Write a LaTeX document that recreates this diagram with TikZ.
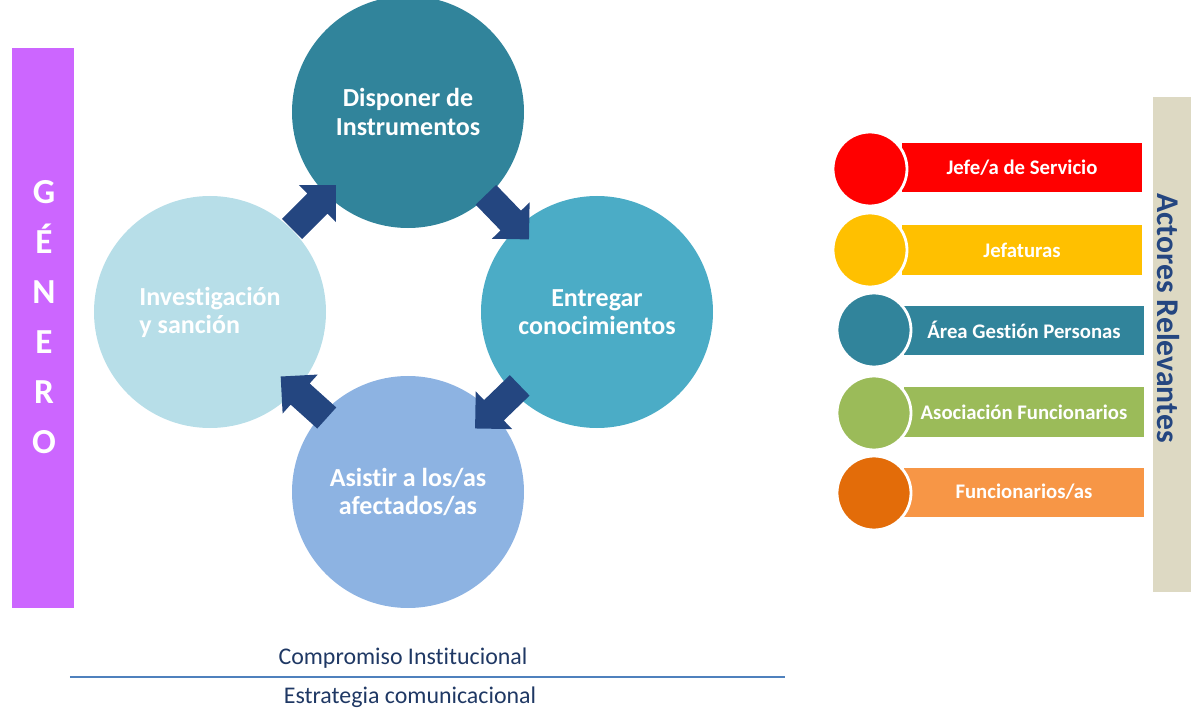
\documentclass[tikz,border=0pt]{standalone}
\usepackage{fontspec}
\setmainfont{Carlito}[Ligatures=NoCommon]
\usepackage{tikz}
\usetikzlibrary{shapes.arrows}
\usetikzlibrary{calc}
\definecolor{genero}{RGB}{204,102,255}
\definecolor{petrol}{RGB}{49,132,155}
\definecolor{aqua}{RGB}{75,172,198}
\definecolor{sky}{RGB}{141,179,226}
\definecolor{pale}{RGB}{183,222,232}
\definecolor{navy}{RGB}{36,70,128}
\definecolor{ink}{RGB}{31,56,100}
\definecolor{beige}{RGB}{221,217,195}
\definecolor{jefe}{RGB}{255,0,0}
\definecolor{amber}{RGB}{255,192,0}
\definecolor{olive}{RGB}{155,187,89}
\definecolor{rust}{RGB}{227,108,9}
\definecolor{peach}{RGB}{247,150,70}
\definecolor{rule}{RGB}{79,129,189}
\tikzstyle{stage}=[circle, minimum size=2.32cm, inner sep=0pt, text=white, align=center, font=\fontsize{7.4}{8}\selectfont\bfseries]
\tikzstyle{flow}=[single arrow, fill=navy, inner sep=0.135cm, single arrow head extend=0.12cm, minimum height=0.62cm]
\tikzstyle{actor}=[circle, minimum size=0.74cm, inner sep=0pt, draw=white, line width=0.8pt]
\tikzstyle{role}=[minimum width=2.40cm, minimum height=0.49cm, inner sep=0pt, text=white, font=\fontsize{5.9}{6.5}\selectfont\bfseries]
\tikzstyle{band}=[text=ink, font=\fontsize{6.8}{7.5}\selectfont]

\begin{document}
\begin{tikzpicture}
        \useasboundingbox (0,0) rectangle (11.91,-7.10);
        % side bars
        \fill[genero] (0.12,-0.48) rectangle (0.74,-6.08);
        \node[text=white, align=center, font=\fontsize{10}{14.2}\selectfont\bfseries] (G) at (0.44,-3.17) {G\\É\\N\\E\\R\\O};
        \fill[beige] (11.53,-0.97) rectangle (11.91,-5.92);
        \node[rotate=-90, text=navy, font=\fontsize{9}{10}\selectfont\bfseries] (AR) at (11.68,-3.18) {Actores Relevantes};
        % cycle
        \node[stage, fill=petrol]           (dispo) at (4.08,-1.12) {Disponer de\\Instrumentos};
        \node[stage, fill=aqua]             (entre) at (5.97,-3.12) {Entregar\\conocimientos};
        \node[stage, fill=sky]              (asist) at (4.08,-4.92) {Asistir a los/as\\afectados/as};
        \node[stage, fill=pale, align=left] (inves) at (2.10,-3.12) {Investigación\\y sanción};
        \node[flow, rotate=-46]  (a1) at ($(dispo)!0.5!(entre)$) {};
        \node[flow, rotate=-136] (a2) at ($(entre)!0.5!(asist)$) {};
        \node[flow, rotate=138]  (a3) at ($(asist)!0.5!(inves)$) {};
        \node[flow, rotate=45]   (a4) at ($(inves)!0.5!(dispo)$) {};
        % actors
        \node[role, fill=jefe]   (R1) at (10.22,-1.68) {Jefe/a de Servicio};
        \node[role, fill=amber]  (R2) at (10.22,-2.50) {Jefaturas};
        \node[role, fill=petrol] (R3) at (10.24,-3.30) {Área Gestión Personas};
        \node[role, fill=olive]  (R4) at (10.24,-4.12) {Asociación Funcionarios};
        \node[role, fill=peach]  (R5) at (10.24,-4.92) {Funcionarios/as};
        \node[actor, fill=jefe]   (C1) at (8.70,-1.69) {};
        \node[actor, fill=amber]  (C2) at (8.70,-2.50) {};
        \node[actor, fill=petrol] (C3) at (8.74,-3.30) {};
        \node[actor, fill=olive]  (C4) at (8.74,-4.13) {};
        \node[actor, fill=rust]   (C5) at (8.74,-4.93) {};
        % base
        \node[band] (comp) at (4.03,-6.58) {Compromiso Institucional};
        \node[band] (estr) at (4.10,-6.97) {Estrategia comunicacional};
        \coordinate (L1) at (0.70,-6.77);
        \coordinate (L2) at (7.85,-6.77);
        \draw[rule, line width=0.8pt] (L1) -- (L2);
    \end{tikzpicture}
\end{document}
